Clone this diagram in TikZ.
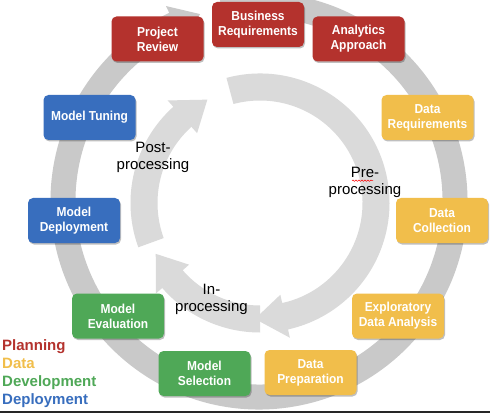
\documentclass[tikz,border=0pt]{standalone}
\usepackage{fontspec}
\setmainfont{Liberation Sans}
\newfontfamily\boxfont[FakeStretch=0.92]{Liberation Sans}
\usetikzlibrary{shadows,decorations.pathmorphing}
\definecolor{planred}{HTML}{B4322D}
\definecolor{datayel}{HTML}{F1BE4B}
\definecolor{devgreen}{HTML}{4FA857}
\definecolor{depblue}{HTML}{386EBE}
\definecolor{outergray}{HTML}{C9C9C9}
\definecolor{innergray}{HTML}{DADADA}
% #1 center, #2 mid radius, #3 half width, #4 start angle, #5 tip angle, #6 head angular length, #7 head half width, #8 fill
\newcommand{\myarcarrow}[8]{%
  \pgfmathsetmacro\myro{#2+#3}%
  \pgfmathsetmacro\myri{#2-#3}%
  \pgfmathsetmacro\myhb{#5+#6}%
  \pgfmathsetmacro\myho{#2+#7}%
  \pgfmathsetmacro\myhi{#2-#7}%
  \begin{scope}[shift={#1}]
    \fill[#8] (#4:\myro pt) arc[start angle=#4, end angle=\myhb, radius=\myro pt]
      -- (\myhb:\myho pt) -- (#5:#2 pt) -- (\myhb:\myhi pt) -- (\myhb:\myri pt)
      arc[start angle=\myhb, end angle=#4, radius=\myri pt] -- cycle;
  \end{scope}}
\tikzset{
  stagebox/.style={rounded corners=5pt, minimum width=92pt, minimum height=45pt,
    text=white, align=center, inner sep=2pt,
    font=\boxfont\bfseries\fontsize{13}{15}\selectfont,
    drop shadow={shadow xshift=1pt, shadow yshift=-1.5pt, opacity=0.25, fill=black}},
  planbox/.style={stagebox, fill=planred},
  databox/.style={stagebox, fill=datayel},
  devbox/.style={stagebox, fill=devgreen},
  depbox/.style={stagebox, fill=depblue},
  phaselabel/.style={align=center, inner sep=0pt, font=\fontsize{15}{17}\selectfont},
  legendtext/.style={anchor=base west, inner sep=0pt, font=\bfseries\fontsize{15}{18}\selectfont}
}
\begin{document}
\begin{tikzpicture}[x=1pt,y=1pt]
\useasboundingbox (0,0) rectangle (490,413);
\fill[white] (0,0) rectangle (490,413);
% outer ring
\myarcarrow{(259,212)}{196}{12.5}{101}{-252.5}{8}{20}{outergray}
% inner arrows
\myarcarrow{(260,210)}{116}{13.5}{-90}{-154}{15}{22}{innergray}
\myarcarrow{(260,210)}{116}{13.5}{200}{117}{15}{22}{innergray}
\myarcarrow{(260,210)}{116}{13.5}{105}{-92.5}{15}{22}{innergray}
% stage boxes
\node[planbox] (br) at (258,388.5) {Business\\Requirements};
\node[planbox] (pr) at (157.5,374) {Project\\Review};
\node[planbox] (aa) at (358.5,374) {Analytics\\Approach};
\node[databox] (dr) at (427.5,295.5) {Data\\Requirements};
\node[databox] (dc) at (442,192.5) {Data\\Collection};
\node[databox] (eda) at (398,97) {Exploratory\\Data Analysis};
\node[databox] (dp) at (310.5,40.5) {Data\\Preparation};
\node[devbox] (ms) at (204.5,39.5) {Model\\Selection};
\node[devbox] (me) at (118,97) {Model\\Evaluation};
\node[depbox] (md) at (74,192.5) {Model\\Deployment};
\node[depbox] (mt) at (89.5,295.5) {Model Tuning};
% phase labels
\node[phaselabel] (post) at (153,255.5) {Post-\\processing};
\node[phaselabel] (pre) at (365,230.5) {Pre-\\processing};
\node[phaselabel] (inp) at (211.5,114) {In-\\processing};
\draw[red, line width=0.5pt, decorate, decoration={snake, amplitude=0.7pt, segment length=3pt}] (352,232.3) -- (373,232.3);
% legend
\node[legendtext, text=planred] (lp) at (2,63) {Planning};
\node[legendtext, text=datayel] (ld) at (2,45) {Data};
\node[legendtext, text=devgreen] (lv) at (2,27) {Development};
\node[legendtext, text=depblue] (ly) at (2,9) {Deployment};
% bottom rule
\draw[line width=1.6pt, black!85] (0,0.8) -- (490,0.8);
\end{tikzpicture}
\end{document}
